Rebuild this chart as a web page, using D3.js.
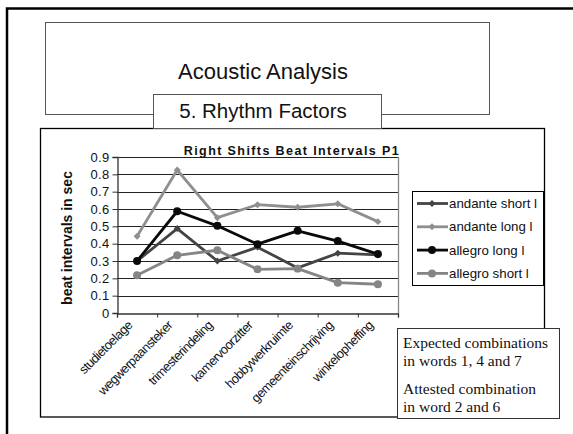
<!DOCTYPE html>
<html><head><meta charset="utf-8">
<script src="https://cdn.jsdelivr.net/npm/d3@7"></script>
<style>html,body{margin:0;padding:0;background:#fff}svg{display:block}</style>
</head><body>
<script>
const categories = ["studietoelage","wegwerpaansteker","trimesterindeling","kamervoorzitter","hobbywerkruimte","gemeenteinschrijving","winkelopheffing"];
const seriesNames = ["andante short l","andante long l","allegro long l","allegro short l"];
const andanteShort = [0.30, 0.487, 0.30, 0.38, 0.26, 0.345, 0.335];
const andanteLong  = [0.443, 0.825, 0.55, 0.625, 0.61, 0.63, 0.527];
const allegroLong  = [0.30, 0.587, 0.503, 0.397, 0.474, 0.415, 0.34];
const allegroShort = [0.218, 0.333, 0.362, 0.252, 0.256, 0.175, 0.166];
const yTicks = [0,0.1,0.2,0.3,0.4,0.5,0.6,0.7,0.8,0.9];

const series = [
  {name: seriesNames[0], values: andanteShort, color: "#444444", shape: "diamond"},
  {name: seriesNames[1], values: andanteLong,  color: "#8f8f8f", shape: "diamond"},
  {name: seriesNames[2], values: allegroLong,  color: "#0a0a0a", shape: "circle"},
  {name: seriesNames[3], values: allegroShort, color: "#858585", shape: "circle"}
];

const W = 573, H = 434;
const svg = d3.select("body").append("svg").attr("width", W).attr("height", H);
svg.append("rect").attr("width", W).attr("height", H).attr("fill", "#fff");

// outer slide frame
svg.append("path").attr("d", "M7,434V8.5H573").attr("fill","none").attr("stroke","#000").attr("stroke-width",2.5);

// title box
svg.append("rect").attr("x",45.5).attr("y",22.5).attr("width",444).attr("height",92)
  .attr("fill","#fff").attr("stroke","#555").attr("stroke-width",1);
svg.append("text").attr("x",263).attr("y",79).attr("text-anchor","middle")
  .attr("font-family","Liberation Sans, Arial, sans-serif").attr("font-size",22).attr("fill","#111")
  .text("Acoustic Analysis");

// chart frame
svg.append("rect").attr("x",40.5).attr("y",128.5).attr("width",504).attr("height",288.5)
  .attr("fill","#fff").attr("stroke","#000").attr("stroke-width",1.3);

// subtitle box
svg.append("rect").attr("x",153.5).attr("y",94.5).attr("width",228).attr("height",34)
  .attr("fill","#fff").attr("stroke","#555").attr("stroke-width",1);
svg.append("text").attr("x",263).attr("y",118).attr("text-anchor","middle")
  .attr("font-family","Liberation Sans, Arial, sans-serif").attr("font-size",20.5).attr("fill","#111")
  .text("5. Rhythm Factors");

// scales
const x0 = 117, x1 = 398;
const xb = d3.scaleBand().domain(categories).range([x0, x1]).padding(0);
const xi = d3.scaleLinear().domain([0, categories.length]).range([x0, x1]);
const cx = c => xb(c) + xb.bandwidth()/2;
const y = d3.scaleLinear().domain([0, 0.9]).range([313, 157]);

const g = svg.append("g");

// gridlines
g.selectAll("line.grid").data(yTicks.filter(d => d > 0)).join("line")
  .attr("x1", x0).attr("x2", x1).attr("y1", d => Math.round(y(d))+0.5).attr("y2", d => Math.round(y(d))+0.5)
  .attr("stroke", "#222").attr("stroke-width", 1);
// plot border right
g.append("line").attr("x1", x1+0.5).attr("x2", x1+0.5).attr("y1", Math.round(y(0.9))).attr("y2", 313)
  .attr("stroke", "#888").attr("stroke-width", 1.3);

// y axis
const yAxis = d3.axisLeft(y).tickValues(yTicks).tickSize(5).tickPadding(3)
  .tickFormat(d => d === 0 ? "0" : d.toFixed(1));
const ya = svg.append("g").attr("transform", `translate(${x0+0.5},0)`).call(yAxis);
ya.select(".domain").attr("stroke", "#333").attr("stroke-width", 1.3);
ya.selectAll(".tick line").attr("stroke", "#333");
ya.selectAll(".tick text").attr("font-family","Liberation Sans, Arial, sans-serif")
  .attr("font-size", 13).attr("fill", "#111").attr("letter-spacing", 0.3);

// x axis (ticks at band boundaries)
const xAxis = d3.axisBottom(xi).tickValues(d3.range(0, categories.length+1)).tickSize(4).tickFormat("");
const xa = svg.append("g").attr("transform", `translate(0,${313.5})`).call(xAxis);
xa.select(".domain").attr("stroke", "#333").attr("stroke-width", 1.3);
xa.selectAll(".tick line").attr("stroke", "#333");

// x labels
svg.append("g").selectAll("text").data(categories).join("text")
  .attr("transform", d => `translate(${cx(d)-4},${326}) rotate(-45)`)
  .attr("text-anchor", "end")
  .attr("font-family","Liberation Sans, Arial, sans-serif").attr("font-size", 12.8)
  .attr("letter-spacing", -0.55).attr("fill", "#111")
  .text(d => d);

// y title
svg.append("text").attr("transform", "translate(72,238) rotate(-90)").attr("text-anchor","middle")
  .attr("font-family","Liberation Sans, Arial, sans-serif").attr("font-size", 14).attr("font-weight","bold")
  .attr("fill","#111").text("beat intervals in sec");

// chart title
svg.append("text").attr("x", 292).attr("y", 155).attr("text-anchor","middle")
  .attr("font-family","Liberation Sans, Arial, sans-serif").attr("font-size", 12.5).attr("font-weight","bold")
  .attr("letter-spacing", 1.4).attr("fill","#111").text("Right Shifts Beat Intervals P1");

// lines
const line = d3.line().x((d,i) => cx(categories[i])).y(d => y(d));
const sym = s => d3.symbol().type(s.shape === "diamond" ? d3.symbolSquare : d3.symbolCircle).size(s.shape === "diamond" ? 24 : 50)();
const rot = s => s.shape === "diamond" ? " rotate(45)" : "";
series.forEach(s => {
  svg.append("path").attr("d", line(s.values)).attr("fill","none").attr("stroke", s.color)
    .attr("stroke-width", 2.8).attr("stroke-linejoin","round");
});
series.forEach(s => {
  svg.append("g").selectAll("path").data(s.values).join("path")
    .attr("transform", (d,i) => `translate(${cx(categories[i])},${y(d)})${rot(s)}`)
    .attr("d", sym(s)).attr("fill", s.color);
});

// legend
const lg = svg.append("g");
lg.append("rect").attr("x", 412.5).attr("y", 191.5).attr("width", 131).attr("height", 94)
  .attr("fill","#fff").attr("stroke","#000").attr("stroke-width",1);
series.forEach((s, i) => {
  const ly = 203.5 + i*23.3;
  lg.append("line").attr("x1", 417).attr("x2", 448).attr("y1", ly).attr("y2", ly)
    .attr("stroke", s.color).attr("stroke-width", 2.8);
  lg.append("path").attr("transform", `translate(432,${ly})${rot(s)}`).attr("d", sym(s)).attr("fill", s.color);
  lg.append("text").attr("x", 449).attr("y", ly + 4.6)
    .attr("font-family","Liberation Sans, Arial, sans-serif").attr("font-size", 13.3).attr("fill","#111")
    .text(s.name);
});

// annotation text box
svg.append("rect").attr("x", 397.5).attr("y", 328.5).attr("width", 162).attr("height", 90)
  .attr("fill","#fff").attr("stroke","#333").attr("stroke-width",1);
const noteLines = [["Expected combinations", 347.5],["in words 1, 4 and 7", 365.5],["Attested combination", 394],["in word 2 and 6", 411.5]];
svg.append("g").selectAll("text").data(noteLines).join("text")
  .attr("x", 403).attr("y", d => d[1])
  .attr("font-family","Liberation Serif, Times New Roman, serif").attr("font-size", 15.5).attr("fill","#111")
  .text(d => d[0]);
</script>
</body></html>
